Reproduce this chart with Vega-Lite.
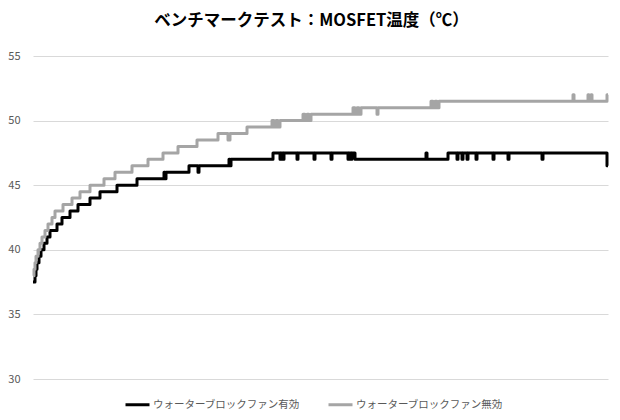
{
  "$schema": "https://vega.github.io/schema/vega-lite/v6.json",
  "width": 575,
  "height": 323,
  "autosize": "none",
  "padding": {"left": 33, "top": 56, "right": 12, "bottom": 41},
  "background": "white",
  "title": {
    "text": "ベンチマークテスト：MOSFET温度（℃）",
    "font": "Noto Sans CJK JP",
    "fontSize": 16.5,
    "fontWeight": "bold",
    "color": "#000000",
    "anchor": "middle",
    "dx": -9,
    "offset": 21
  },
  "config": {
    "view": {"stroke": null},
    "font": "Noto Sans CJK JP"
  },
  "data": {
    "values": [
      {"s": "ウォーターブロックファン有効", "t": 0, "v": 37.5},
      {"s": "ウォーターブロックファン有効", "t": 2, "v": 38},
      {"s": "ウォーターブロックファン有効", "t": 3, "v": 38.5},
      {"s": "ウォーターブロックファン有効", "t": 4, "v": 39},
      {"s": "ウォーターブロックファン有効", "t": 6, "v": 39.5},
      {"s": "ウォーターブロックファン有効", "t": 8, "v": 40},
      {"s": "ウォーターブロックファン有効", "t": 11, "v": 40.5},
      {"s": "ウォーターブロックファン有効", "t": 14, "v": 41},
      {"s": "ウォーターブロックファン有効", "t": 17, "v": 41.5},
      {"s": "ウォーターブロックファン有効", "t": 24, "v": 42},
      {"s": "ウォーターブロックファン有効", "t": 29, "v": 42.5},
      {"s": "ウォーターブロックファン有効", "t": 37, "v": 43},
      {"s": "ウォーターブロックファン有効", "t": 45, "v": 43.5},
      {"s": "ウォーターブロックファン有効", "t": 57, "v": 44},
      {"s": "ウォーターブロックファン有効", "t": 67, "v": 44.5},
      {"s": "ウォーターブロックファン有効", "t": 84, "v": 45},
      {"s": "ウォーターブロックファン有効", "t": 104, "v": 45.5},
      {"s": "ウォーターブロックファン有効", "t": 131, "v": 46},
      {"s": "ウォーターブロックファン有効", "t": 132, "v": 45.5},
      {"s": "ウォーターブロックファン有効", "t": 133, "v": 46},
      {"s": "ウォーターブロックファン有効", "t": 156, "v": 46.5},
      {"s": "ウォーターブロックファン有効", "t": 165, "v": 46},
      {"s": "ウォーターブロックファン有効", "t": 166, "v": 46.5},
      {"s": "ウォーターブロックファン有効", "t": 196, "v": 47},
      {"s": "ウォーターブロックファン有効", "t": 197, "v": 46.5},
      {"s": "ウォーターブロックファン有効", "t": 198, "v": 47},
      {"s": "ウォーターブロックファン有効", "t": 240, "v": 47.5},
      {"s": "ウォーターブロックファン有効", "t": 247, "v": 47},
      {"s": "ウォーターブロックファン有効", "t": 248, "v": 47.5},
      {"s": "ウォーターブロックファン有効", "t": 250, "v": 47},
      {"s": "ウォーターブロックファン有効", "t": 251, "v": 47.5},
      {"s": "ウォーターブロックファン有効", "t": 264, "v": 47},
      {"s": "ウォーターブロックファン有効", "t": 265, "v": 47.5},
      {"s": "ウォーターブロックファン有効", "t": 281, "v": 47},
      {"s": "ウォーターブロックファン有効", "t": 282, "v": 47.5},
      {"s": "ウォーターブロックファン有効", "t": 298, "v": 47},
      {"s": "ウォーターブロックファン有効", "t": 299, "v": 47.5},
      {"s": "ウォーターブロックファン有効", "t": 315, "v": 47},
      {"s": "ウォーターブロックファン有効", "t": 316, "v": 47.5},
      {"s": "ウォーターブロックファン有効", "t": 318, "v": 47},
      {"s": "ウォーターブロックファン有効", "t": 319, "v": 47.5},
      {"s": "ウォーターブロックファン有効", "t": 322, "v": 47},
      {"s": "ウォーターブロックファン有効", "t": 393, "v": 47.5},
      {"s": "ウォーターブロックファン有効", "t": 394, "v": 47},
      {"s": "ウォーターブロックファン有効", "t": 415, "v": 47.5},
      {"s": "ウォーターブロックファン有効", "t": 424, "v": 47},
      {"s": "ウォーターブロックファン有効", "t": 425, "v": 47.5},
      {"s": "ウォーターブロックファン有効", "t": 429, "v": 47},
      {"s": "ウォーターブロックファン有効", "t": 430, "v": 47.5},
      {"s": "ウォーターブロックファン有効", "t": 434, "v": 47},
      {"s": "ウォーターブロックファン有効", "t": 435, "v": 47.5},
      {"s": "ウォーターブロックファン有効", "t": 443, "v": 47},
      {"s": "ウォーターブロックファン有効", "t": 444, "v": 47.5},
      {"s": "ウォーターブロックファン有効", "t": 460, "v": 47},
      {"s": "ウォーターブロックファン有効", "t": 461, "v": 47.5},
      {"s": "ウォーターブロックファン有効", "t": 475, "v": 47},
      {"s": "ウォーターブロックファン有効", "t": 476, "v": 47.5},
      {"s": "ウォーターブロックファン有効", "t": 509, "v": 47},
      {"s": "ウォーターブロックファン有効", "t": 510, "v": 47.5},
      {"s": "ウォーターブロックファン有効", "t": 574, "v": 46.5},
      {"s": "ウォーターブロックファン有効", "t": 575, "v": 46.5},
      {"s": "ウォーターブロックファン無効", "t": 0, "v": 38},
      {"s": "ウォーターブロックファン無効", "t": 1, "v": 38.5},
      {"s": "ウォーターブロックファン無効", "t": 2, "v": 39},
      {"s": "ウォーターブロックファン無効", "t": 3, "v": 39.5},
      {"s": "ウォーターブロックファン無効", "t": 5, "v": 40},
      {"s": "ウォーターブロックファン無効", "t": 7, "v": 40.5},
      {"s": "ウォーターブロックファン無効", "t": 9, "v": 41},
      {"s": "ウォーターブロックファン無効", "t": 12, "v": 41.5},
      {"s": "ウォーターブロックファン無効", "t": 15, "v": 42},
      {"s": "ウォーターブロックファン無効", "t": 19, "v": 42.5},
      {"s": "ウォーターブロックファン無効", "t": 22, "v": 43},
      {"s": "ウォーターブロックファン無効", "t": 30, "v": 43.5},
      {"s": "ウォーターブロックファン無効", "t": 39, "v": 44},
      {"s": "ウォーターブロックファン無効", "t": 47, "v": 44.5},
      {"s": "ウォーターブロックファン無効", "t": 57, "v": 45},
      {"s": "ウォーターブロックファン無効", "t": 71, "v": 45.5},
      {"s": "ウォーターブロックファン無効", "t": 82, "v": 46},
      {"s": "ウォーターブロックファン無効", "t": 99, "v": 46.5},
      {"s": "ウォーターブロックファン無効", "t": 115, "v": 47},
      {"s": "ウォーターブロックファン無効", "t": 130, "v": 47.5},
      {"s": "ウォーターブロックファン無効", "t": 145, "v": 48},
      {"s": "ウォーターブロックファン無効", "t": 164, "v": 48.5},
      {"s": "ウォーターブロックファン無効", "t": 185, "v": 49},
      {"s": "ウォーターブロックファン無効", "t": 195, "v": 48.5},
      {"s": "ウォーターブロックファン無効", "t": 197, "v": 49},
      {"s": "ウォーターブロックファン無効", "t": 214, "v": 49.5},
      {"s": "ウォーターブロックファン無効", "t": 239, "v": 50},
      {"s": "ウォーターブロックファン無効", "t": 241, "v": 49.5},
      {"s": "ウォーターブロックファン無効", "t": 243, "v": 50},
      {"s": "ウォーターブロックファン無効", "t": 245, "v": 49.5},
      {"s": "ウォーターブロックファン無効", "t": 247, "v": 50},
      {"s": "ウォーターブロックファン無効", "t": 270, "v": 50.5},
      {"s": "ウォーターブロックファン無効", "t": 272, "v": 50},
      {"s": "ウォーターブロックファン無効", "t": 274, "v": 50.5},
      {"s": "ウォーターブロックファン無効", "t": 276, "v": 50},
      {"s": "ウォーターブロックファン無効", "t": 278, "v": 50.5},
      {"s": "ウォーターブロックファン無効", "t": 320, "v": 51},
      {"s": "ウォーターブロックファン無効", "t": 322, "v": 50.5},
      {"s": "ウォーターブロックファン無効", "t": 324, "v": 51},
      {"s": "ウォーターブロックファン無効", "t": 326, "v": 50.5},
      {"s": "ウォーターブロックファン無効", "t": 328, "v": 51},
      {"s": "ウォーターブロックファン無効", "t": 344, "v": 50.5},
      {"s": "ウォーターブロックファン無効", "t": 345, "v": 51},
      {"s": "ウォーターブロックファン無効", "t": 398, "v": 51.5},
      {"s": "ウォーターブロックファン無効", "t": 400, "v": 51},
      {"s": "ウォーターブロックファン無効", "t": 402, "v": 51.5},
      {"s": "ウォーターブロックファン無効", "t": 404, "v": 51},
      {"s": "ウォーターブロックファン無効", "t": 406, "v": 51.5},
      {"s": "ウォーターブロックファン無効", "t": 540, "v": 52},
      {"s": "ウォーターブロックファン無効", "t": 541, "v": 51.5},
      {"s": "ウォーターブロックファン無効", "t": 555, "v": 52},
      {"s": "ウォーターブロックファン無効", "t": 556, "v": 51.5},
      {"s": "ウォーターブロックファン無効", "t": 558, "v": 52},
      {"s": "ウォーターブロックファン無効", "t": 559, "v": 51.5},
      {"s": "ウォーターブロックファン無効", "t": 574, "v": 52},
      {"s": "ウォーターブロックファン無効", "t": 575, "v": 52}
    ]
  },
  "mark": {"type": "line", "strokeWidth": 3, "interpolate": "step-after", "strokeJoin": "round"},
  "encoding": {
    "x": {
      "field": "t",
      "type": "quantitative",
      "scale": {"domain": [0, 575], "nice": false, "zero": false},
      "axis": null
    },
    "y": {
      "field": "v",
      "type": "quantitative",
      "scale": {"domain": [30, 55], "nice": false, "zero": false},
      "axis": {
        "values": [30, 35, 40, 45, 50, 55],
        "title": null,
        "domain": false,
        "ticks": false,
        "grid": true,
        "gridColor": "#D9D9D9",
        "gridWidth": 1,
        "labelColor": "#595959",
        "labelFont": "Noto Sans CJK JP",
        "labelFontSize": 11,
        "labelPadding": 13
      }
    },
    "color": {
      "field": "s",
      "type": "nominal",
      "scale": {
        "domain": ["ウォーターブロックファン有効", "ウォーターブロックファン無効"],
        "range": ["#000000", "#A5A5A5"]
      },
      "legend": {
        "title": null,
        "orient": "none",
        "legendX": 91,
        "legendY": 335,
        "direction": "horizontal",
        "symbolType": "stroke",
        "symbolSize": 576,
        "symbolStrokeWidth": 3,
        "labelFont": "Noto Sans CJK JP",
        "labelFontSize": 10.5,
        "labelColor": "#595959",
        "labelOffset": 2,
        "columnPadding": 22,
        "padding": 0
      }
    }
  }
}
